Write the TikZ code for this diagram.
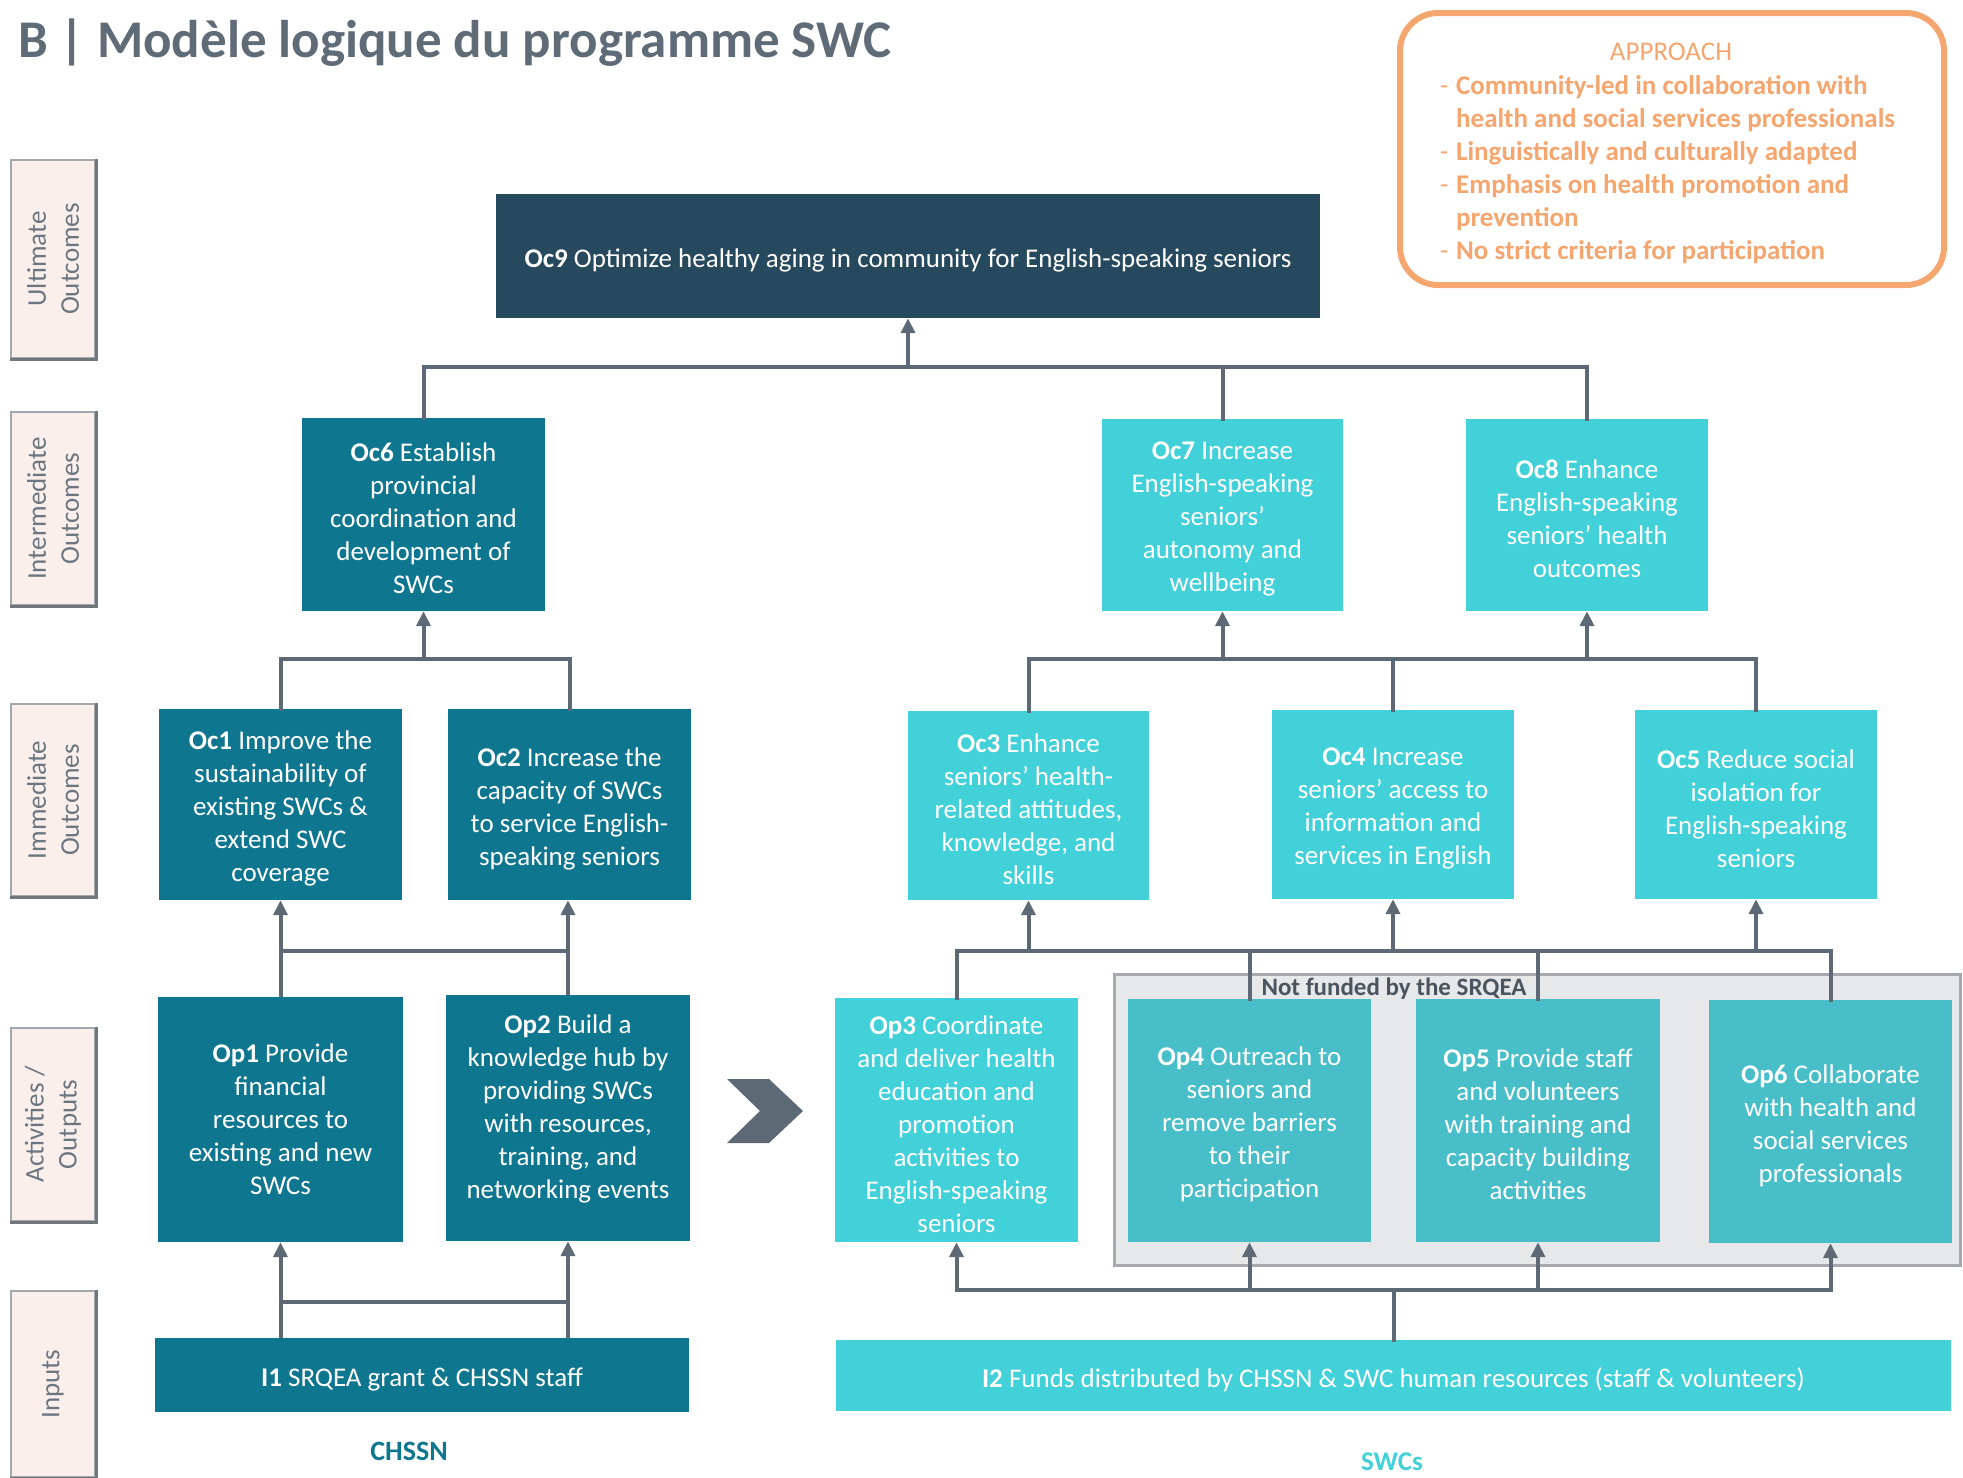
\documentclass[tikz,border=0pt]{standalone}
\usepackage{fontspec}
\setmainfont{Carlito}
\usetikzlibrary{arrows.meta}
\definecolor{navy}{HTML}{26495E}
\definecolor{dteal}{HTML}{0E768F}
\definecolor{lcyan}{HTML}{42D0D9}
\definecolor{mcyan}{HTML}{48BEC8}
\definecolor{connc}{HTML}{5D6A75}
\definecolor{grayfill}{HTML}{E7E8EA}
\definecolor{grayline}{HTML}{A5A9AD}
\definecolor{orng}{HTML}{F5A56E}
\definecolor{pinkfill}{HTML}{FBEFEC}
\definecolor{lblline}{HTML}{A3A8AD}
\definecolor{lbldark}{HTML}{6F767C}
\definecolor{lbltext}{HTML}{6B7680}
\definecolor{titlec}{HTML}{5F6C78}
\definecolor{nftext}{HTML}{4A5560}
% box node + its text node: name, style, x, y, width, height, text shift, text
\newcommand\mybox[8]{%
  \node[#2, minimum width=#5pt, minimum height=#6pt] (#1) at (#3,#4) {};
  \node[txt] (#1t) at ([yshift=#7pt]#1.center) {#8};}
\begin{document}
\begin{tikzpicture}[x=1pt,y=-1pt,
 box/.style={inner sep=0pt},
 txt/.style={inner sep=0pt, align=center, text=white, font=\fontsize{27}{33}\selectfont},
 dk/.style={box, fill=dteal},
 lt/.style={box, fill=lcyan},
 md/.style={box, fill=mcyan},
 nv/.style={box, fill=navy},
 conn/.style={draw=connc, line width=4pt, line cap=rect},
 arr/.style={draw=connc, line width=4pt, -{Triangle[length=15pt,width=14pt]}},
 lbl/.style={fill=pinkfill, draw=lblline, line width=2pt, inner sep=0pt, align=center, text=lbltext, font=\fontsize{27}{33}\selectfont, rotate=90, minimum height=84pt}
]
\useasboundingbox (0,0) rectangle (1963,1478);

% title
\node[anchor=base west, inner sep=0pt, font=\bfseries\fontsize{53}{60}\selectfont, text=titlec] (title) at (18,57) {B | Modèle logique du programme SWC};

% approach
\node[draw=orng, line width=6pt, rounded corners=38pt, minimum width=544pt, minimum height=272pt, inner sep=0pt] (appbox) at (1672,149) {};
\node[text=orng, inner sep=0pt, font=\fontsize{27}{33}\selectfont] (apph) at (1671,51.5) {APPROACH};
\node[anchor=north west, inner sep=0pt, text=orng, font=\bfseries\fontsize{27}{33}\selectfont] (applist) at (1440,71.5) {\begin{tabular}{@{}l@{\hspace{7.7pt}}l@{}}
{\mdseries -}&Community-led in collaboration with\\
&health and social services professionals\\
{\mdseries -}&Linguistically and culturally adapted\\
{\mdseries -}&Emphasis on health promotion and\\
&prevention\\
{\mdseries -}&No strict criteria for participation
\end{tabular}};

% level labels
\node[lbl, minimum width=198pt] (lu) at (53,259) {Ultimate\\Outcomes};
\node[lbl, minimum width=193pt] (li) at (53,508.5) {Intermediate\\Outcomes};
\node[lbl, minimum width=192pt] (lm) at (53,800) {Immediate\\Outcomes};
\node[lbl, minimum width=193pt] (la) at (53,1124.5) {Activities /\\Outputs};
\node[lbl, minimum width=186pt] (lin) at (53,1384) {Inputs};
\foreach \n in {lu,li,lm,la,lin}
  \draw[lbldark, line width=3pt] (\n.south east) -- (\n.south west) -- (\n.north west);

% not funded area
\node[fill=grayfill, draw=grayline, line width=3pt, minimum width=846pt, minimum height=291pt, inner sep=0pt] (nfbox) at (1537,1119.5) {};
\node[inner sep=0pt, font=\bfseries\fontsize{25}{30}\selectfont, text=nftext] (nf) at (1394,988.5) {Not funded by the SRQEA};

% ultimate
\mybox{oc9}{nv}{908}{256}{824}{124}{-4}{\textbf{Oc9} Optimize healthy aging in community for English-speaking seniors}

% intermediate
\mybox{oc6}{dk}{423.5}{514.5}{243}{193}{-4}{\textbf{Oc6} Establish\\provincial\\coordination and\\development of\\SWCs}
\mybox{oc7}{lt}{1222.5}{515}{241}{192}{-4}{\textbf{Oc7} Increase\\English-speaking\\seniors’\\autonomy and\\wellbeing}
\mybox{oc8}{lt}{1587}{515}{242}{192}{-4}{\textbf{Oc8} Enhance\\English-speaking\\seniors’ health\\outcomes}

% immediate
\mybox{oc1}{dk}{280.5}{804.5}{243}{191}{-4}{\textbf{Oc1} Improve the\\sustainability of\\existing SWCs \&\\extend SWC\\coverage}
\mybox{oc2}{dk}{569.5}{804.5}{243}{191}{-4}{\textbf{Oc2} Increase the\\capacity of SWCs\\to service English-\\speaking seniors}
\mybox{oc3}{lt}{1028.5}{805.5}{241}{189}{-4}{\textbf{Oc3} Enhance\\seniors’ health-\\related attitudes,\\knowledge, and\\skills}
\mybox{oc4}{lt}{1393}{804.5}{242}{189}{-4}{\textbf{Oc4} Increase\\seniors’ access to\\information and\\services in English}
\mybox{oc5}{lt}{1756}{804.5}{242}{189}{-4}{\textbf{Oc5} Reduce social\\isolation for\\English-speaking\\seniors}

% activities
\mybox{op1}{dk}{280.5}{1119.5}{245}{245}{0}{\textbf{Op1} Provide\\financial\\resources to\\existing and new\\SWCs}
\mybox{op2}{dk}{568}{1118}{244}{246}{9}{\textbf{Op2} Build a\\knowledge hub by\\providing SWCs\\with resources,\\training, and\\networking events}
\mybox{op3}{lt}{956.5}{1120}{243}{244}{-4}{\textbf{Op3} Coordinate\\and deliver health\\education and\\promotion\\activities to\\English-speaking\\seniors}
\mybox{op4}{md}{1249.5}{1120.5}{243}{243}{-4}{\textbf{Op4} Outreach to\\seniors and\\remove barriers\\to their\\participation}
\mybox{op5}{md}{1538}{1120.5}{244}{243}{-4}{\textbf{Op5} Provide staff\\and volunteers\\with training and\\capacity building\\activities}
\mybox{op6}{md}{1830.5}{1121.5}{243}{243}{-4}{\textbf{Op6} Collaborate\\with health and\\social services\\professionals}

% chevron
\fill[connc] (727,1079) -- (769,1079) -- (803,1111) -- (769,1143) -- (727,1143) -- (760,1111) -- cycle;

% inputs
\mybox{i1}{dk}{422}{1375}{534}{74}{-4}{\textbf{I1} SRQEA grant \& CHSSN staff}
\mybox{i2}{lt}{1393.5}{1375.5}{1115}{71}{-4}{\textbf{I2} Funds distributed by CHSSN \& SWC human resources (staff \& volunteers)}

\node[inner sep=0pt, font=\bfseries\fontsize{28}{33}\selectfont, text=dteal] (chssn) at (409,1451) {CHSSN};
\node[inner sep=0pt, font=\bfseries\fontsize{27}{32}\selectfont, text=lcyan] (swcs) at (1392,1462) {SWCs};

% connectors
\coordinate (b1) at (908,367);
\coordinate (b2) at (0,659);
\coordinate (b3) at (0,951);
\coordinate (b4) at (0,1302);
\coordinate (b5) at (0,1290);

\draw[conn] (oc6.north) -- (oc6.north |- b1) -- (oc8.north |- b1) -- (oc8.north);
\draw[conn] (oc7.north) -- (oc7.north |- b1);
\draw[arr] (oc9.south |- b1) -- (oc9.south);

\draw[conn] (oc1.north) -- (oc1.north |- b2) -- (oc2.north |- b2) -- (oc2.north);
\draw[arr] (oc6.south |- b2) -- (oc6.south);
\draw[conn] (oc3.north) -- (oc3.north |- b2) -- (oc5.north |- b2) -- (oc5.north);
\draw[conn] (oc4.north) -- (oc4.north |- b2);
\draw[arr] (oc7.south |- b2) -- (oc7.south);
\draw[arr] (oc8.south |- b2) -- (oc8.south);

\draw[arr] (op1.north) -- (op1.north |- oc1.south);
\draw[arr] (op2.north) -- (op2.north |- oc2.south);
\draw[conn] (op1.north |- b3) -- (op2.north |- b3);
\draw[conn] (op3.north) -- (op3.north |- b3) -- (op6.north |- b3) -- (op6.north);
\draw[conn] (op4.north) -- (op4.north |- b3);
\draw[conn] (op5.north) -- (op5.north |- b3);
\draw[arr] (oc3.south |- b3) -- (oc3.south);
\draw[arr] (oc4.south |- b3) -- (oc4.south);
\draw[arr] (oc5.south |- b3) -- (oc5.south);

\draw[arr] (op1.south |- i1.north) -- (op1.south);
\draw[arr] (op2.south |- i1.north) -- (op2.south);
\draw[conn] (op1.south |- b4) -- (op2.south |- b4);

\draw[conn] (i2.north) -- (i2.north |- b5);
\draw[conn] (op3.south |- b5) -- (op6.south |- b5);
\draw[arr] (op3.south |- b5) -- (op3.south);
\draw[arr] (op4.south |- b5) -- (op4.south);
\draw[arr] (op5.south |- b5) -- (op5.south);
\draw[arr] (op6.south |- b5) -- (op6.south);
\end{tikzpicture}
\end{document}
